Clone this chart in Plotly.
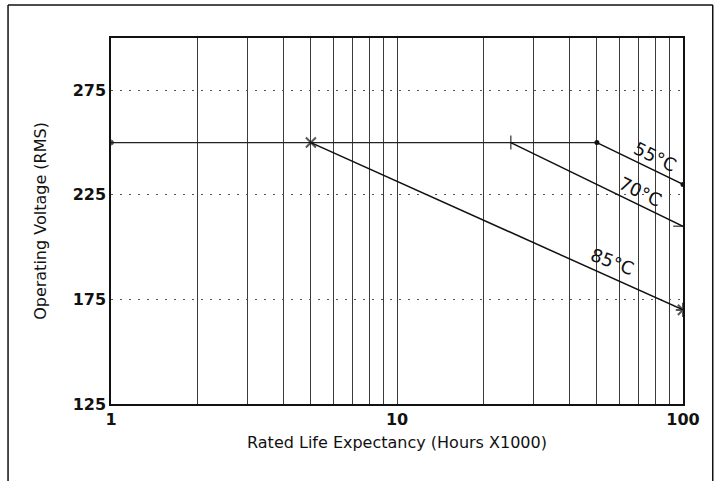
import plotly.graph_objects as go

# life expectancy (hours x1000) vs operating voltage
base_x = [1, 50]
base_y = [250, 250]

c55_x = [50, 100]
c55_y = [250, 230]

c70_x = [25, 100]
c70_y = [250, 210]

c85_x = [5, 100]
c85_y = [250, 170]

labels = ["55°C", "70°C", "85°C"]
label_logx = [1.902, 1.850, 1.752]
label_y = [243.5, 226.5, 193]
label_angle = [26, 26, 21]

x_ticks = [1, 2, 3, 4, 5, 6, 7, 8, 9, 10, 20, 30, 40, 50, 60, 70, 80, 90, 100]
x_ticktext = ["1", "", "", "", "", "", "", "", "", "10", "", "", "", "", "", "", "", "", "100"]
y_ticks = [125, 175, 225, 275]

font_family = "DejaVu Sans, Arial, sans-serif"

fig = go.Figure()

fig.add_trace(go.Scatter(x=base_x, y=base_y, mode="lines+markers",
                         line=dict(color="#222", width=1.3),
                         marker=dict(symbol="circle", size=[5, 0], color="#111")))
fig.add_trace(go.Scatter(x=c55_x, y=c55_y, mode="lines+markers",
                         line=dict(color="#111", width=1.5),
                         marker=dict(symbol="circle", size=5, color="#111")))
fig.add_trace(go.Scatter(x=c70_x, y=c70_y, mode="lines+markers",
                         line=dict(color="#111", width=1.5),
                         marker=dict(symbol=["line-ns-open", "line-ew-open"], size=[10, 14],
                                     line=dict(color="#333", width=1.5))))
fig.add_trace(go.Scatter(x=c85_x, y=c85_y, mode="lines+markers",
                         line=dict(color="#111", width=1.5),
                         marker=dict(symbol=["x-thin-open", "asterisk-open"], size=[10, 12],
                                     line=dict(color="#111", width=2))))

for t, lx, ly, ang in zip(labels, label_logx, label_y, label_angle):
    fig.add_annotation(x=lx, y=ly, text=t, showarrow=False, textangle=ang,
                       font=dict(family=font_family, size=18, color="#111"))

# outer frame of the figure
fig.add_shape(type="line", xref="paper", yref="paper", x0=-0.180, x1=-0.180, y0=1.090, y1=-0.3,
              line=dict(color="#111", width=1.5))
fig.add_shape(type="line", xref="paper", yref="paper", x0=-0.180, x1=1.052, y0=1.090, y1=1.090,
              line=dict(color="#111", width=1.5))
fig.add_shape(type="line", xref="paper", yref="paper", x0=1.052, x1=1.052, y0=1.090, y1=-0.3,
              line=dict(color="#111", width=1.5))

fig.update_layout(
    width=718, height=481,
    margin=dict(l=111, r=35, t=38, b=77),
    paper_bgcolor="white", plot_bgcolor="white",
    showlegend=False,
    font=dict(family=font_family, color="#111"),
)

fig.update_xaxes(type="log", range=[0, 2], tickvals=x_ticks, ticktext=x_ticktext,
                 showgrid=True, gridcolor="#3a3a3a", gridwidth=1,
                 showline=True, linecolor="#111", linewidth=1.5, mirror=True,
                 ticks="", tickfont=dict(size=16, family=font_family, weight="bold"),
                 zeroline=False,
                 title=dict(text="Rated Life Expectancy (Hours X1000)", font=dict(size=16), standoff=9))
fig.update_yaxes(range=[125, 300], tickvals=y_ticks,
                 showgrid=True, gridcolor="#555", gridwidth=1, griddash="2px,7px",
                 showline=True, linecolor="#111", linewidth=1.5, mirror=True,
                 ticks="", tickfont=dict(size=16, family=font_family, weight="bold"),
                 zeroline=False,
                 title=dict(text="Operating Voltage (RMS)", font=dict(size=16), standoff=22))

fig.write_html("out.html", config={"displayModeBar": False},
               post_script="document.body.style.margin='0';document.body.style.overflow='hidden';")
